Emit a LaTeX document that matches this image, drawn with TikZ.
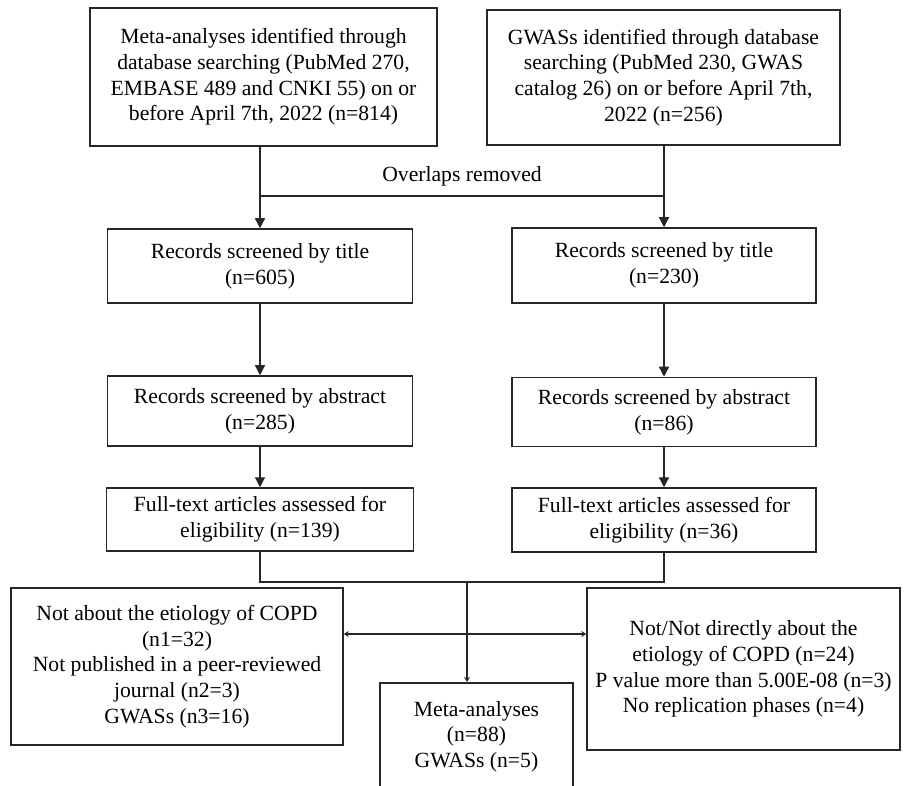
\documentclass[tikz,border=0pt]{standalone}
\usepackage{fontspec}
\setmainfont{Liberation Serif}
\usetikzlibrary{arrows.meta}

\tikzset{
    box/.style={draw=black!85, line width=0.9pt, align=center, inner sep=0pt,
        font=\fontsize{13pt}{15.4pt}\selectfont},
    lbl/.style={inner sep=0pt, font=\fontsize{13pt}{15.4pt}\selectfont},
    link/.style={line width=0.8pt, draw=black!85},
    arr/.style={link, -{Triangle[length=6pt,width=6pt]}},
    smallarr/.style={link, -{Stealth[length=3pt,width=3.5pt]}},
    dblarr/.style={link, {Stealth[length=3pt,width=3.5pt]}-{Stealth[length=3pt,width=3.5pt]}}
}

\begin{document}
\begin{tikzpicture}[x=0.6pt, y=-0.6pt]
    \useasboundingbox (0,0) rectangle (904,786);
    \clip (0,0) rectangle (904,786);

    % Identification
    \node[box, minimum width=208.2pt, minimum height=82.8pt] (metaid) at (263.5,77)
        {Meta-analyses identified through\\database searching (PubMed 270,\\EMBASE 489 and CNKI 55) on or\\before April 7th, 2022 (n=814)};
    \node[box, minimum width=211.8pt, minimum height=81pt] (gwasid) at (663.5,77.5)
        {GWASs identified through database\\searching (PubMed 230, GWAS\\catalog 26) on or before April 7th,\\2022 (n=256)};

    % Screening
    \node[box, minimum width=183pt, minimum height=44.4pt] (metatitle) at (260,266)
        {Records screened by title\\(n=605)};
    \node[box, minimum width=182.4pt, minimum height=45pt] (gwastitle) at (664,265.5)
        {Records screened by title\\(n=230)};
    \node[box, minimum width=183pt, minimum height=42pt] (metaabs) at (260,411)
        {Records screened by abstract\\(n=285)};
    \node[box, minimum width=182.4pt, minimum height=41.4pt] (gwasabs) at (664,412)
        {Records screened by abstract\\(n=86)};

    % Eligibility
    \node[box, minimum width=184.2pt, minimum height=37.8pt] (metafull) at (260,519.5)
        {Full-text articles assessed for\\eligibility (n=139)};
    \node[box, minimum width=182.4pt, minimum height=38.4pt] (gwasfull) at (664,520)
        {Full-text articles assessed for\\eligibility (n=36)};

    % Exclusions and included
    \node[box, minimum width=199.2pt, minimum height=94.2pt] (metaexcl) at (177,666.5)
        {Not about the etiology of COPD\\(n1=32)\\Not published in a peer-reviewed\\journal (n2=3)\\GWASs (n3=16)};
    \node[box, minimum width=187.8pt, minimum height=97.2pt] (gwasexcl) at (743.5,669)
        {Not/Not directly about the\\etiology of COPD (n=24)\\P value more than 5.00E-08 (n=3)\\No replication phases (n=4)};
    \node[box, anchor=north, minimum width=115.8pt, minimum height=64.8pt] (incl) at (476.5,682)
        {Meta-analyses\\(n=88)\\GWASs (n=5)};

    % Overlaps removed
    \coordinate (ovy) at (0,196);
    \node[lbl] (ovtxt) at (462,176) {Overlaps removed};
    \draw[arr] (metaid.south -| metatitle.north) -- (metatitle.north);
    \draw[arr] (gwasid.south -| gwastitle.north) -- (gwastitle.north);
    \draw[link] (metatitle.north |- ovy) -- (gwastitle.north |- ovy);

    % Down the columns
    \draw[arr] (metatitle) -- (metaabs);
    \draw[arr] (metaabs) -- (metafull);
    \draw[arr] (gwastitle) -- (gwasabs);
    \draw[arr] (gwasabs) -- (gwasfull);

    % Merge
    \coordinate (mgy) at (0,582);
    \coordinate (mgc) at (467,582);
    \coordinate (xay) at (467,634);
    \draw[link] (metafull.south) -- (metafull.south |- mgy) -- (gwasfull.south |- mgy) -- (gwasfull.south);
    \draw[smallarr] (mgc) -- (mgc |- incl.north);
    \draw[dblarr] (xay -| metaexcl.east) -- (xay -| gwasexcl.west);
\end{tikzpicture}
\end{document}
